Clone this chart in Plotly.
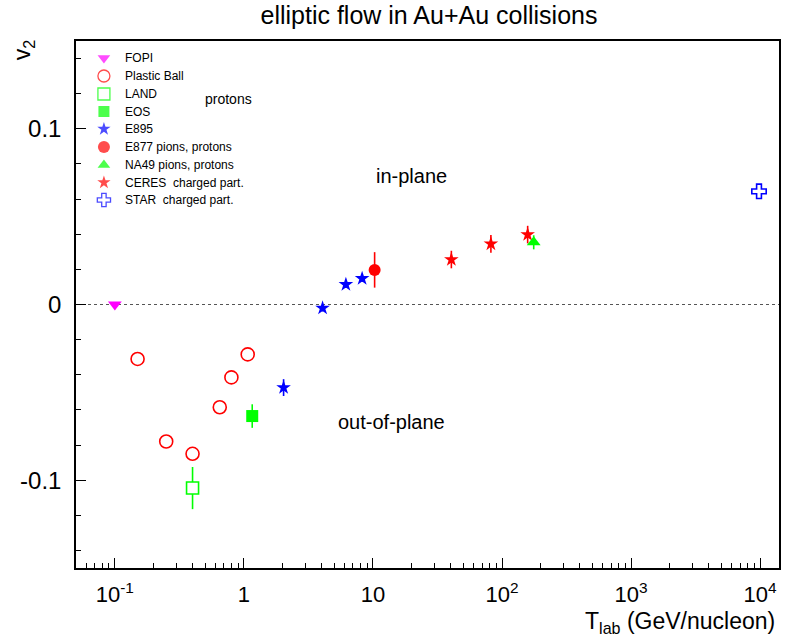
import numpy as np
import plotly.graph_objects as go

# ---- measured v2 values (proton / charged-particle elliptic flow, Au+Au) ----
fopi_x = [0.1]
fopi_y = [0.0]

pb_x = [0.15, 0.25, 0.4, 0.65, 0.8, 1.07]
pb_y = [-0.031, -0.078, -0.085, -0.0585, -0.0415, -0.0284]

land_x = [0.4]
land_y = [-0.1045]
land_err = [0.012]

eos_x = [1.16]
eos_y = [-0.0635]
eos_err = [0.0067]

e895_x = [2.03, 4.07, 6.17, 8.24]
e895_y = [-0.0473, -0.002, 0.0114, 0.0148]
e895_err = [0.0048, 0.002, 0.002, 0.002]

e877_x = [10.3]
e877_y = [0.0197]
e877_err = [0.0101]

na49_x = [176]
na49_y = [0.0354]
na49_err = [0.004]

ceres_x = [40.5, 82, 158]
ceres_y = [0.0256, 0.0345, 0.0398]
ceres_err = [0.005, 0.005, 0.005]

star_x = [9800]
star_y = [0.0644]
star_err = [0.002]

# legend entries
legend_labels = ["FOPI", "Plastic Ball", "LAND", "EOS", "E895",
                 "E877 pions, protons", "NA49 pions, protons",
                 "CERES  charged part.", "STAR  charged part."]

x_tickvals = [0.1, 1, 10, 100, 1000, 10000]
x_ticktext = ["10<sup>-1</sup>", "1", "10", "10<sup>2</sup>", "10<sup>3</sup>", "10<sup>4</sup>"]
y_tickvals = [-0.1, 0, 0.1]
y_ticktext = ["-0.1", "0", "0.1"]

MAGENTA = "#ff00ff"
RED = "#ff0000"
GREEN = "#00ff00"
BLUE = "#0000ff"
FONT = "Liberation Sans, Arial, Helvetica, sans-serif"

W, H = 789, 637
ML, MR, MT, MB = 76, 8, 41, 69
PW, PH = W - ML - MR, H - MT - MB


def px2paper_x(px):
    return (px - ML) / PW


def px2paper_y(py):
    return (H - MB - py) / PH


fig = go.Figure()


def err(vals, color):
    return dict(type="data", array=vals, visible=True, color=color,
                thickness=1.6, width=0)


fig.add_trace(go.Scatter(x=fopi_x, y=fopi_y, mode="markers",
                         marker=dict(symbol="triangle-down", size=12, color=MAGENTA,
                                     line=dict(width=0))))
fig.add_trace(go.Scatter(x=pb_x, y=pb_y, mode="markers",
                         marker=dict(symbol="circle-open", size=13, color=RED,
                                     line=dict(width=1.6))))
fig.add_trace(go.Scatter(x=land_x, y=land_y, mode="markers", error_y=err(land_err, GREEN),
                         marker=dict(symbol="square", size=12, color="white",
                                     line=dict(width=1.6, color=GREEN))))
fig.add_trace(go.Scatter(x=eos_x, y=eos_y, mode="markers", error_y=err(eos_err, GREEN),
                         marker=dict(symbol="square", size=12, color=GREEN,
                                     line=dict(width=0))))
fig.add_trace(go.Scatter(x=e895_x, y=e895_y, mode="markers", error_y=err(e895_err, BLUE),
                         marker=dict(symbol="star", size=11, color=BLUE,
                                     line=dict(width=0))))
fig.add_trace(go.Scatter(x=e877_x, y=e877_y, mode="markers", error_y=err(e877_err, RED),
                         marker=dict(symbol="circle", size=12, color=RED,
                                     line=dict(width=0))))
fig.add_trace(go.Scatter(x=ceres_x, y=ceres_y, mode="markers", error_y=err(ceres_err, RED),
                         marker=dict(symbol="star", size=11, color=RED,
                                     line=dict(width=0))))
fig.add_trace(go.Scatter(x=na49_x, y=na49_y, mode="markers", error_y=err(na49_err, GREEN),
                         marker=dict(symbol="triangle-up", size=12, color=GREEN,
                                     line=dict(width=0))))
fig.add_trace(go.Scatter(x=star_x, y=star_y, mode="markers", error_y=err(star_err, BLUE),
                         marker=dict(symbol="cross", size=12, color="white",
                                     line=dict(width=1.6, color=BLUE))))

# hand-placed legend: markers on an overlay axis in fractional coordinates
leg_rows_px = [58, 76, 94, 111.5, 129, 147, 165, 182.5, 200]
leg_y = [px2paper_y(p) for p in leg_rows_px]
leg_x = [px2paper_x(104)] * len(leg_rows_px)
leg_sym = ["triangle-down", "circle", "square", "square", "star", "circle",
           "triangle-up", "star", "cross"]
leg_fill = [MAGENTA, "white", "white", GREEN, BLUE, RED, GREEN, RED, "white"]
leg_line = [MAGENTA, RED, GREEN, GREEN, BLUE, RED, GREEN, RED, BLUE]
leg_lw = [0, 1.3, 1.3, 0, 0, 0, 0, 0, 1.3]
leg_size = [11, 12, 12, 11, 10, 12, 11, 10, 11]
fig.add_trace(go.Scatter(x=leg_x, y=leg_y, mode="markers", xaxis="x2", yaxis="y2",
                         marker=dict(symbol=leg_sym, size=leg_size, color=leg_fill,
                                     line=dict(width=leg_lw, color=leg_line))))

annotations = []
for lab, yy in zip(legend_labels, leg_y):
    annotations.append(dict(text=lab, x=px2paper_x(123), y=yy, xref="paper", yref="paper",
                            xanchor="left", yanchor="middle", showarrow=False,
                            font=dict(size=12, family=FONT, color="black")))


def centered(text, px, py, size):
    return dict(text=text, x=px2paper_x(px), y=px2paper_y(py), xref="paper", yref="paper",
                xanchor="center", yanchor="middle", showarrow=False,
                font=dict(size=size, family=FONT, color="black"))


annotations += [
    centered("protons", 229, 99, 14),
    centered("in-plane", 412, 176, 20),
    centered("out-of-plane", 392, 422, 20),
    dict(text="T<sub>lab</sub> (GeV/nucleon)", x=px2paper_x(779), y=px2paper_y(622),
         xref="paper", yref="paper", xanchor="right", yanchor="middle", showarrow=False,
         font=dict(size=23, family=FONT, color="black")),
    dict(text="v<sub>2</sub>", x=px2paper_x(23), y=px2paper_y(50), xref="paper", yref="paper",
         xanchor="center", yanchor="middle", textangle=-90, showarrow=False,
         font=dict(size=23, family=FONT, color="black")),
]

# minor ticks at 2..9 x 10^n on the log axis
x_minor = [m * 10.0 ** e for e in range(-2, 5) for m in range(2, 10)
           if 0.05 <= m * 10.0 ** e <= 14000]

fig.update_layout(
    width=W, height=H,
    margin=dict(l=ML, r=MR, t=MT, b=MB, pad=0),
    paper_bgcolor="white", plot_bgcolor="white",
    showlegend=False,
    title=dict(text="elliptic flow in Au+Au collisions", x=429 / W, xref="container",
               xanchor="center", y=1 - 15 / H, yref="container", yanchor="middle",
               font=dict(size=25, family=FONT, color="black")),
    xaxis=dict(type="log", range=[np.log10(0.05), np.log10(14000)],
               tickmode="array", tickvals=x_tickvals, ticktext=x_ticktext,
               ticks="inside", ticklen=10, tickwidth=1.3, tickcolor="black",
               showline=True, linecolor="black", linewidth=1.5, mirror=True,
               showgrid=False, zeroline=False, ticklabelstandoff=6,
               tickfont=dict(size=22, family=FONT, color="black"),
               minor=dict(tickmode="array", tickvals=x_minor, ticks="inside", ticklen=5,
                          tickwidth=1.3, tickcolor="black", showgrid=False)),
    yaxis=dict(range=[-0.15, 0.15], tickmode="array", tickvals=y_tickvals,
               ticktext=y_ticktext, ticks="inside", ticklen=10, tickwidth=1.3,
               tickcolor="black", showline=True, linecolor="black", linewidth=1.5,
               mirror=True, showgrid=False, zeroline=False, ticklabelstandoff=8,
               tickfont=dict(size=24, family=FONT, color="black"),
               minor=dict(tick0=0, dtick=0.02, ticks="inside", ticklen=5, tickwidth=1.3,
                          tickcolor="black", showgrid=False)),
    xaxis2=dict(overlaying="x", range=[0, 1], visible=False, fixedrange=True),
    yaxis2=dict(overlaying="y", range=[0, 1], visible=False, fixedrange=True),
    annotations=annotations,
    shapes=[dict(type="line", xref="paper", x0=0, x1=1, yref="y", y0=0, y1=0,
                 line=dict(color="#555555", width=1.2, dash="3px,3px"), layer="below")],
)

fig.write_html("out.html")
